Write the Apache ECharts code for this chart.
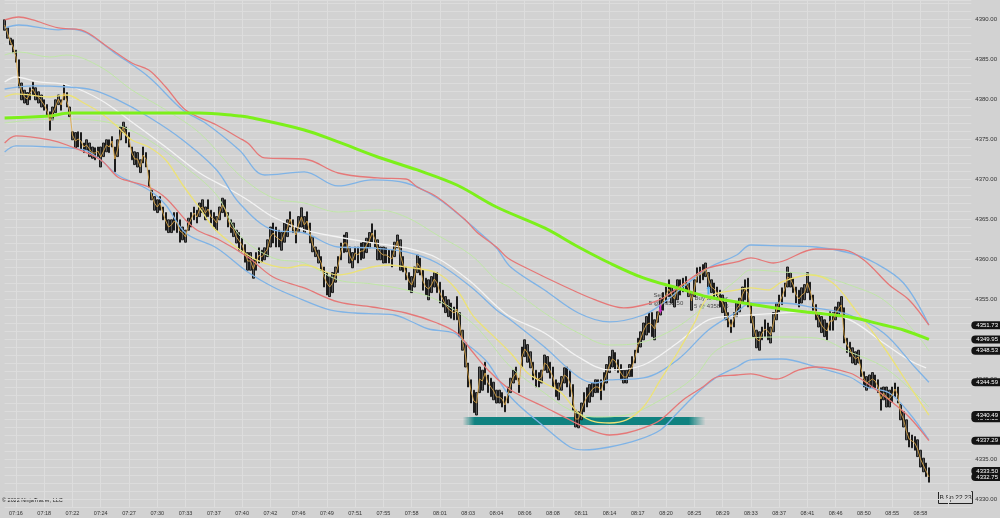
<!DOCTYPE html>
<html><head><meta charset="utf-8">
<script src="https://cdn.jsdelivr.net/npm/echarts@6/dist/echarts.min.js"></script>
<style>html,body{margin:0;padding:0;background:#d2d2d2;}#c{width:1000px;height:518px;}</style>
</head><body><div id="c"></div>
<script>
const FONT = '"Liberation Sans", Arial, sans-serif';
const timeLabels = ['07:16','07:18','07:22','07:24','07:27','07:30','07:33','07:37','07:40','07:42','07:46','07:49','07:51','07:55','07:58','08:01','08:03','08:04','08:06','08:08','08:11','08:14','08:17','08:20','08:25','08:29','08:33','08:37','08:41','08:46','08:50','08:55','08:58'];
const slotCount = 343; // bar slots incl. right margin

const barHigh = [
4389.9,4388.9,4387.6,4387.4,4386.1,4384.9,4382.0,4381.1,4380.8,4381.4,
4382.1,4381.4,4380.9,4380.5,4379.9,4379.3,4378.4,4379.0,4379.9,4380.5,
4379.9,4381.8,4380.8,4379.0,4375.9,4375.8,4375.9,4375.8,4374.5,4374.9,
4374.5,4374.0,4373.9,4374.0,4374.0,4374.5,4374.9,4374.9,4375.3,4374.0,
4374.9,4376.5,4377.1,4376.5,4375.8,4374.0,4373.4,4373.3,4372.4,4374.0,
4373.3,4371.1,4368.6,4367.8,4367.4,4367.8,4366.5,4365.8,4364.9,4364.9,
4365.8,4365.8,4364.9,4364.0,4363.6,4365.1,4365.8,4366.5,4366.1,4367.0,
4367.4,4366.5,4367.4,4366.1,4365.8,4365.3,4366.5,4367.6,4367.4,4365.8,
4364.9,4364.5,4363.6,4363.3,4362.6,4361.8,4360.8,4360.8,4359.9,4360.8,
4361.4,4361.1,4361.4,4362.4,4364.0,4364.5,4364.0,4363.6,4363.3,4364.5,
4364.9,4365.9,4364.9,4364.0,4365.3,4366.4,4365.3,4365.9,4364.5,4362.8,
4361.5,4361.1,4360.3,4359.0,4358.3,4357.8,4358.3,4359.0,4360.3,4362.0,
4363.0,4363.3,4361.5,4360.8,4361.5,4361.5,4362.0,4362.1,4362.6,4363.3,
4364.4,4363.6,4362.4,4361.5,4361.5,4361.4,4361.1,4361.1,4362.1,4363.0,
4362.4,4360.3,4359.0,4358.3,4357.8,4359.0,4360.5,4360.1,4358.6,4357.6,
4357.4,4357.8,4358.3,4358.3,4357.1,4356.1,4355.3,4354.9,4354.5,4354.0,
4355.3,4353.3,4351.1,4349.5,4347.0,4344.9,4343.6,4343.3,4346.5,4346.1,
4347.1,4345.5,4345.1,4344.6,4343.6,4343.6,4343.3,4342.8,4344.0,4345.1,
4346.1,4346.5,4345.1,4349.0,4349.9,4349.3,4348.4,4347.1,4346.1,4345.8,
4346.1,4348.0,4347.8,4347.1,4346.5,4344.9,4344.5,4345.3,4346.4,4346.5,
4346.1,4344.3,4341.1,4340.9,4342.0,4343.3,4343.9,4344.3,4344.5,4344.9,
4344.9,4344.9,4345.8,4346.8,4347.8,4348.6,4348.3,4347.4,4346.8,4346.1,
4346.1,4346.8,4347.8,4348.6,4350.1,4350.9,4352.0,4352.8,4353.3,4353.3,
4352.4,4353.4,4355.1,4355.8,4356.5,4357.4,4356.5,4356.1,4357.4,4357.4,
4357.6,4357.8,4357.0,4355.8,4357.4,4358.9,4359.0,4359.3,4359.5,4358.3,
4357.4,4357.0,4356.5,4356.1,4355.5,4354.6,4353.3,4352.4,4353.3,4354.5,
4355.1,4356.5,4357.4,4357.6,4354.5,4352.8,4351.1,4350.9,4351.5,4352.4,
4352.0,4351.5,4353.3,4354.5,4355.5,4356.4,4357.0,4359.0,4358.3,4357.6,
4356.5,4356.1,4356.4,4356.8,4358.3,4357.1,4355.5,4354.3,4353.3,4352.8,
4352.4,4352.0,4353.4,4353.3,4354.0,4354.6,4355.3,4353.9,4350.1,4349.6,
4348.9,4348.4,4348.6,4347.4,4345.9,4345.3,4345.5,4345.8,4345.5,4344.9,
4343.9,4344.0,4344.0,4343.6,4344.0,4344.5,4344.0,4341.8,4340.9,4339.9,
4338.3,4338.0,4337.8,4337.4,4336.1,4335.1,4334.5,4333.9];

const barLow = [
4388.6,4387.6,4386.8,4385.8,4384.6,4381.4,4379.9,4379.5,4379.3,4379.9,
4380.5,4379.9,4379.5,4379.0,4378.6,4378.0,4376.1,4377.4,4378.3,4379.3,
4378.6,4379.9,4379.0,4377.8,4374.9,4373.9,4374.0,4373.6,4373.3,4373.6,
4372.8,4372.6,4372.4,4372.8,4371.5,4372.8,4373.4,4373.3,4374.0,4370.9,
4372.8,4374.9,4375.8,4374.5,4374.0,4372.4,4371.8,4371.5,4370.8,4372.0,
4371.5,4369.0,4367.4,4366.1,4365.8,4366.1,4364.9,4363.6,4363.3,4363.3,
4363.6,4363.3,4362.1,4362.4,4362.1,4363.6,4364.0,4364.9,4364.5,4365.3,
4365.8,4364.9,4365.3,4364.5,4364.0,4363.6,4364.9,4365.8,4365.3,4364.0,
4363.3,4362.8,4362.0,4361.1,4360.9,4359.6,4358.6,4358.6,4357.6,4358.6,
4359.5,4359.6,4359.9,4360.3,4361.5,4362.0,4361.5,4361.5,4361.1,4362.1,
4362.8,4364.0,4363.3,4362.0,4363.4,4364.0,4363.3,4363.6,4362.0,4360.9,
4360.3,4359.5,4358.6,4356.5,4355.5,4355.3,4355.8,4357.1,4358.3,4359.9,
4360.8,4360.9,4359.5,4358.9,4359.9,4359.5,4359.9,4360.1,4360.8,4361.4,
4362.1,4361.5,4359.9,4359.9,4359.5,4359.5,4359.5,4359.0,4360.3,4361.4,
4358.6,4358.4,4357.4,4356.1,4355.8,4356.5,4358.3,4358.0,4356.1,4355.5,
4354.9,4355.8,4356.5,4355.8,4354.5,4354.0,4353.3,4352.8,4352.6,4352.4,
4352.4,4350.3,4348.6,4346.5,4344.0,4342.0,4340.8,4340.5,4343.3,4343.6,
4344.3,4343.3,4342.8,4342.4,4342.0,4342.0,4341.5,4340.9,4342.0,4343.3,
4344.5,4344.9,4343.3,4346.5,4347.8,4347.1,4346.4,4344.9,4344.0,4344.0,
4344.5,4346.1,4345.8,4345.1,4344.0,4342.8,4342.4,4343.6,4344.5,4344.0,
4342.8,4341.1,4339.0,4338.9,4339.9,4340.9,4341.5,4342.1,4342.8,4343.3,
4343.3,4342.4,4343.6,4344.5,4345.8,4346.5,4346.1,4345.8,4344.9,4344.5,
4344.5,4345.3,4345.3,4347.0,4348.3,4349.0,4349.9,4350.5,4350.8,4350.3,
4349.9,4352.1,4353.0,4353.6,4354.5,4355.3,4354.5,4354.0,4354.9,4355.5,
4355.9,4356.1,4355.3,4353.6,4355.3,4357.1,4357.0,4357.4,4357.8,4356.5,
4355.8,4355.3,4354.9,4354.0,4353.3,4352.4,4351.5,4350.8,4351.5,4352.8,
4353.4,4354.5,4354.9,4354.0,4352.0,4350.3,4348.9,4348.6,4349.9,4350.3,
4349.9,4349.5,4350.9,4352.4,4353.4,4354.3,4355.3,4356.5,4356.5,4355.8,
4354.5,4354.0,4354.5,4354.9,4355.8,4354.9,4353.6,4352.4,4351.5,4350.8,
4350.3,4349.9,4351.1,4351.1,4352.4,4352.8,4353.3,4349.5,4348.3,4347.8,
4347.0,4346.8,4347.0,4345.3,4344.0,4343.6,4343.9,4344.0,4343.9,4343.3,
4341.1,4342.4,4341.5,4341.5,4342.1,4342.8,4342.0,4339.9,4339.0,4337.4,
4336.5,4336.4,4336.1,4335.3,4334.0,4333.4,4332.8,4332.1];

const barClose = [
4389.25,4388.25,4387.25,4386.5,4385.25,4382,4381,4380.25,4380,4380.75,
4381.25,4380.5,4380.25,4379.75,4379.25,4378.5,4377.25,4378.25,4379,4380,
4379.25,4380.75,4379.75,4378.5,4375.5,4374.75,4375,4374.75,4374,4374.25,
4373.75,4373.25,4373.25,4373.5,4372.75,4373.5,4374.25,4374,4374.75,4372.5,
4373.75,4375.75,4376.5,4375.5,4375,4373.25,4372.5,4372.5,4371.5,4373,
4372.5,4370,4368,4367,4366.5,4367,4365.75,4364.75,4364,4364.25,
4364.75,4364.5,4363.5,4363.25,4362.75,4364.25,4365,4365.75,4365.25,4366.25,
4366.5,4365.75,4366.25,4365.25,4365,4364.5,4365.75,4366.75,4366.25,4365,
4364,4363.75,4362.75,4362.25,4361.75,4360.75,4359.75,4359.75,4358.75,4359.75,
4360.5,4360.25,4360.75,4361.25,4362.75,4363.25,4362.75,4362.5,4362.25,4363.25,
4363.75,4365,4364,4363,4364.25,4365.25,4364.25,4364.75,4363.25,4361.75,
4361,4360.25,4359.5,4357.75,4357,4356.5,4357,4358,4359.25,4361,
4362,4362,4360.5,4359.75,4360.75,4360.5,4361,4361,4361.75,4362.25,
4363.25,4362.5,4361.25,4360.75,4360.5,4360.5,4360.25,4360,4361.25,4362.25,
4360.5,4359.25,4358.25,4357.25,4356.75,4357.75,4359.5,4359,4357.25,4356.5,
4356.25,4356.75,4357.5,4357,4355.75,4355,4354.25,4353.75,4353.5,4353.25,
4353.75,4351.75,4349.75,4348,4345.5,4343.5,4342.25,4342,4345,4344.75,
4345.75,4344.5,4344,4343.5,4342.75,4342.75,4342.5,4341.75,4343,4344.25,
4345.25,4345.75,4344.25,4347.75,4348.75,4348.25,4347.5,4346,4345,4345,
4345.25,4347,4346.75,4346,4345.25,4343.75,4343.5,4344.5,4345.5,4345.25,
4344.5,4342.75,4340,4340,4341,4342,4342.75,4343.25,4343.75,4344,
4344,4343.5,4344.75,4345.75,4346.75,4347.5,4347.25,4346.5,4345.75,4345.25,
4345.25,4346,4346.5,4347.75,4349.25,4350,4351,4351.75,4352,4351.75,
4351.25,4352.75,4354,4354.75,4355.5,4356.25,4355.5,4355,4356.25,4356.5,
4356.75,4357,4356.25,4354.75,4356.25,4358,4358,4358.25,4358.75,4357.5,
4356.5,4356.25,4355.75,4355,4354.5,4353.5,4352.5,4351.5,4352.5,4353.75,
4354.25,4355.5,4356.25,4355.75,4353.25,4351.5,4350,4349.75,4350.75,4351.25,
4351,4350.5,4352,4353.5,4354.5,4355.25,4356.25,4357.75,4357.5,4356.75,
4355.5,4355,4355.5,4355.75,4357,4356,4354.5,4353.25,4352.5,4351.75,
4351.25,4351,4352.25,4352.25,4353.25,4353.75,4354.25,4350.5,4349.25,4348.75,
4348,4347.5,4347.75,4346.25,4345,4344.5,4344.75,4345,4344.75,4344,
4342.5,4343.25,4342.75,4342.5,4343,4343.75,4343,4340.75,4340,4338.5,
4337.5,4337.25,4337,4336.25,4335,4334.25,4333.5,4332.75];

// indicator lines: [bar index, price]
const smaGreen = [[0,4377.63],[16,4377.88],[23,4378.25],[51,4378.25],[69,4378.25],[83,4377.88],[86,4377.75],[106,4376.13],[118,4374.63],[132,4372.75],[146,4371.13],[160,4369.25],[174,4366.5],[191,4363.88],[203,4361.5],[214,4359.5],[226,4357.63],[238,4356.38],[249,4355.25],[259,4354.63],[275,4353.75],[287,4353.25],[299,4352.75],[311,4351.75],[318,4351.13],[327,4349.95]];
const upperRed = [[0,4389.88],[5,4390.25],[10,4389.88],[19,4388.88],[27,4388.63],[37,4386.38],[45,4384.5],[51,4383.63],[57,4381.5],[64,4378.63],[75,4376.75],[83,4375.13],[86,4374.5],[92,4372.63],[106,4372.5],[118,4370.75],[132,4370.13],[142,4370.0],[146,4369.0],[153,4367.75],[163,4364.88],[167,4363.38],[174,4361.5],[178,4360.13],[186,4358.63],[197,4356.75],[209,4354.88],[219,4353.88],[226,4354.25],[233,4355.13],[242,4357.38],[249,4358.88],[259,4359.63],[264,4360.13],[272,4359.5],[287,4361.25],[297,4361.13],[304,4359.88],[313,4356.75],[320,4354.88],[327,4351.73]];
const upperBlue = [[0,4388.88],[5,4389.25],[19,4388.63],[23,4388.75],[29,4388.25],[40,4385.5],[51,4382.75],[63,4378.63],[71,4377.0],[83,4373.63],[92,4370.5],[106,4370.88],[118,4369.13],[130,4369.88],[142,4369.5],[153,4367.63],[165,4364.25],[167,4363.63],[174,4361.38],[179,4359.0],[191,4356.13],[203,4353.25],[214,4352.13],[226,4353.0],[233,4354.5],[240,4356.5],[249,4358.88],[259,4360.5],[264,4361.75],[275,4361.63],[287,4361.5],[299,4360.75],[308,4359.5],[318,4357.0],[327,4351.75]];
const upperLightGreen = [[0,4385.5],[5,4385.88],[16,4385.25],[22,4385.5],[34,4384.0],[45,4381.13],[57,4378.63],[69,4375.75],[83,4370.5],[95,4367.63],[106,4367.0],[118,4365.88],[132,4366.13],[142,4365.25],[153,4363.0],[165,4360.5],[174,4357.38],[179,4356.38],[191,4353.25],[203,4350.75],[214,4349.25],[226,4349.63],[238,4351.5],[249,4354.5],[259,4357.38],[264,4358.63],[275,4358.38],[287,4358.0],[299,4356.75],[311,4354.88],[322,4350.88],[327,4348.53]];
const whiteAvg = [[0,4382.13],[4,4382.75],[12,4382.13],[22,4381.75],[34,4379.88],[45,4377.13],[57,4374.0],[69,4370.75],[80,4368.63],[86,4367.38],[95,4365.25],[106,4363.63],[118,4362.75],[128,4362.13],[142,4361.38],[153,4360.13],[165,4357.13],[174,4354.13],[179,4352.75],[191,4350.75],[203,4347.75],[214,4346.13],[226,4346.75],[238,4349.5],[249,4352.38],[259,4352.88],[275,4353.25],[287,4353.38],[299,4352.38],[311,4349.5],[320,4347.38],[326,4346.38]];
const midBlue = [[0,4381.25],[10,4381.63],[22,4381.5],[31,4381.13],[40,4379.88],[51,4377.75],[63,4374.88],[75,4371.13],[83,4367.0],[95,4363.63],[106,4363.25],[118,4361.5],[130,4361.38],[142,4360.88],[153,4359.5],[165,4356.5],[174,4353.63],[179,4352.38],[191,4349.0],[203,4345.25],[209,4344.5],[214,4344.88],[226,4345.13],[238,4347.38],[249,4351.13],[259,4353.38],[264,4354.5],[275,4354.5],[287,4353.88],[299,4353.0],[311,4350.75],[322,4346.5],[327,4344.59]];
const yellowAvg = [[0,4380.25],[4,4380.63],[16,4380.25],[22,4380.5],[28,4379.5],[34,4378.25],[40,4376.5],[45,4374.88],[51,4374.0],[57,4372.38],[63,4369.25],[69,4366.38],[74,4363.88],[80,4362.0],[86,4360.5],[89,4359.88],[95,4359.13],[100,4358.88],[106,4359.25],[118,4358.0],[130,4359.0],[136,4359.25],[142,4359.0],[153,4358.25],[160,4356.13],[165,4353.25],[167,4352.38],[179,4348.25],[185,4345.75],[191,4344.5],[197,4343.25],[203,4340.75],[209,4339.63],[214,4339.5],[220,4339.88],[226,4341.5],[232,4344.88],[238,4348.25],[244,4352.0],[249,4355.25],[259,4356.13],[264,4356.38],[270,4356.13],[275,4357.13],[285,4358.0],[293,4357.0],[301,4353.63],[311,4349.0],[318,4345.25],[327,4340.49]];
const lowerLightGreen = [[0,4377.0],[10,4377.38],[22,4377.5],[31,4377.38],[40,4376.75],[51,4374.88],[63,4371.75],[75,4368.0],[83,4363.0],[95,4360.13],[106,4359.5],[118,4357.38],[130,4356.88],[142,4356.13],[153,4354.88],[165,4352.13],[171,4349.88],[179,4346.5],[191,4343.25],[200,4341.13],[209,4340.25],[220,4340.5],[232,4342.38],[244,4345.25],[252,4348.63],[264,4350.13],[275,4350.25],[287,4350.13],[299,4348.38],[311,4346.5],[322,4343.25],[327,4341.5]];
const lowerRed = [[0,4374.5],[4,4375.38],[16,4374.88],[22,4374.25],[34,4372.38],[40,4370.25],[45,4369.63],[51,4369.0],[57,4367.63],[64,4364.88],[68,4363.63],[76,4362.38],[86,4360.25],[95,4357.75],[106,4356.38],[118,4354.63],[130,4354.0],[142,4353.25],[153,4352.0],[160,4350.75],[165,4348.63],[171,4346.13],[179,4343.63],[191,4341.5],[200,4339.88],[209,4338.38],[214,4338.0],[220,4338.25],[226,4338.88],[232,4339.88],[240,4342.38],[247,4344.0],[252,4345.25],[259,4345.5],[264,4345.63],[273,4345.0],[281,4346.13],[287,4346.5],[299,4345.75],[305,4344.5],[313,4342.38],[320,4340.25],[327,4337.29]];
const lowerBlue = [[0,4373.38],[4,4374.13],[16,4374.0],[28,4373.63],[34,4372.38],[40,4370.5],[51,4368.63],[57,4366.75],[64,4363.25],[75,4361.38],[86,4358.38],[95,4356.5],[103,4355.25],[115,4353.63],[124,4353.25],[132,4353.13],[138,4353.0],[145,4352.0],[150,4351.25],[159,4350.75],[163,4349.5],[167,4348.38],[171,4347.0],[179,4342.75],[191,4339.0],[200,4336.5],[205,4336.13],[214,4336.5],[224,4337.38],[232,4338.63],[238,4340.75],[245,4343.25],[252,4345.25],[259,4346.5],[264,4347.38],[275,4347.5],[287,4346.5],[299,4345.25],[305,4344.0],[313,4343.25],[320,4340.75],[327,4337.38]];

const tagValues = [4351.73, 4349.95, 4348.53, 4344.59, 4340.10, 4340.49, 4337.29, 4333.50, 4332.75];
const zoneBand = {fromBar: '162', toBar: '248', top: 4340.25, bottom: 4339.25};
const sellArrow = [232, 4353.75];
const buyArrow = [249, 4356.13];
const tradeTexts = [{pos: [234, 4354.9], text: 'Sell short\n5 @ 4352.50'}, {pos: [250, 4354.6], text: 'Buy to cover\n5 @ 4358.25'}];

const categories = Array.from({length: slotCount}, (_, i) => String(i));
const isTimeTick = (i) => i >= 4 && (i - 4) % 10 === 0;

const lineSeries = (data, color, width, extra) => Object.assign({
  type: 'line', data: data, smooth: 0.35, symbol: 'none', silent: true,
  lineStyle: {color: color, width: width}, z: 3
}, extra || {});

const chart = echarts.init(document.getElementById('c'), null, {renderer: 'canvas'});
chart.setOption({
  backgroundColor: '#d2d2d2',
  animation: false,
  grid: {left: 4.64, right: 24.1, top: 0, bottom: 11},
  xAxis: {
    type: 'category', data: categories, boundaryGap: false,
    axisLine: {show: false}, axisTick: {show: false},
    axisLabel: {
      interval: (idx) => isTimeTick(idx) && (idx - 4) / 10 < timeLabels.length,
      formatter: (v) => { const i = Number(v); return isTimeTick(i) ? (timeLabels[(i - 4) / 10] || '') : ''; },
      fontSize: 5.5, color: '#333', margin: 3, fontFamily: FONT
    },
    splitLine: {show: true, interval: (idx) => isTimeTick(idx), lineStyle: {color: '#dddddd', width: 1}}
  },
  yAxis: {
    type: 'value', position: 'right', min: 4329, max: 4392.375, interval: 1,
    axisLine: {show: false}, axisTick: {show: false},
    axisLabel: {
      formatter: (v) => (Math.abs(v % 5) < 1e-6 ? v.toFixed(2) : ''),
      fontSize: 6, color: '#333', margin: 4, fontFamily: FONT
    },
    splitLine: {show: true, lineStyle: {color: '#dcdcdc', width: 1}}
  },
  series: [
    {
      type: 'scatter', z: 1, silent: true, symbolSize: 0,
      data: tradeTexts.map(t => ({value: t.pos, label: {show: true, formatter: t.text}})),
      label: {show: true, position: 'inside', fontSize: 6, lineHeight: 8, color: '#2a2a2a', fontFamily: FONT},
      markArea: {
        silent: true,
        itemStyle: {color: new echarts.graphic.LinearGradient(0, 0, 1, 0, [
          {offset: 0, color: 'rgba(16,130,128,0)'}, {offset: 0.05, color: 'rgba(16,130,128,1)'},
          {offset: 0.93, color: 'rgba(16,130,128,1)'}, {offset: 1, color: 'rgba(16,130,128,0)'}])},
        data: [[{xAxis: zoneBand.fromBar, yAxis: zoneBand.top}, {xAxis: zoneBand.toBar, yAxis: zoneBand.bottom}]]
      }
    },
    {
      type: 'candlestick', z: 2, silent: true, clip: false, barWidth: 2,
      data: barLow.map((l, i) => [l, barHigh[i], l, barHigh[i]]),
      itemStyle: {color: '#5a5a5a', color0: '#5a5a5a', borderColor: '#1c1c1c', borderColor0: '#1c1c1c', borderWidth: 1}
    },
    lineSeries(upperLightGreen, '#bfe6a6', 1),
    lineSeries(lowerLightGreen, '#bfe6a6', 1),
    lineSeries(whiteAvg, '#f3f3f3', 1.3),
    lineSeries(midBlue, '#7fb3e6', 1.3),
    lineSeries(yellowAvg, '#ece276', 1.3),
    lineSeries(upperBlue, '#7fb3e6', 1.3),
    lineSeries(lowerBlue, '#7fb3e6', 1.3),
    lineSeries(upperRed, '#e57878', 1.3),
    lineSeries(lowerRed, '#e57878', 1.3),
    lineSeries(smaGreen, '#7cf01a', 3, {z: 4}),
    lineSeries(barClose.map((c, i) => [i, c]), '#d9a446', 1, {smooth: false, z: 4, lineStyle: {color: 'rgba(222,168,70,0.85)', width: 1}}),
    {
      type: 'scatter', z: 5, silent: true,
      data: [
        {value: sellArrow, symbol: 'path://M1,0H3V6H4L2,10L0,6H1Z', symbolSize: [4, 9], itemStyle: {color: '#e026e0'}},
        {value: buyArrow, symbol: 'path://M2,0L4,4H3V10H1V4H0Z', symbolSize: [4, 9], itemStyle: {color: '#3aa4f2'}}
      ],
      markLine: {
        silent: true, symbol: ['none', 'none'], animation: false,
        lineStyle: {color: 'rgba(0,0,0,0)', width: 1, type: 'solid'},
        label: {show: true, position: 'end', distance: 0, formatter: (p) => Number(p.value).toFixed(2), color: '#ffffff',
          backgroundColor: '#141414', borderRadius: [6, 0, 0, 6], padding: [1, 3, 1, 5], fontSize: 6, fontFamily: FONT},
        emphasis: {disabled: true},
        data: tagValues.map(v => ({yAxis: v}))
      }
    }
  ],
  graphic: [
    {type: 'text', left: 2, top: 497, silent: true, style: {text: '\u00a9 2022 NinjaTrader, LLC', fontSize: 5.5, fill: '#222', fontFamily: FONT}},
    {type: 'group', left: 938, top: 491, silent: true, children: [
      {type: 'rect', shape: {x: 0, y: 0, width: 34, height: 12}, style: {fill: '#d6d6d6', stroke: '#222', lineWidth: 1}},
      {type: 'text', x: 17, y: 6.5, style: {text: 'B Sp 22 23', fontSize: 6.5, fill: '#222', align: 'center', verticalAlign: 'middle', fontFamily: FONT}}
    ]}
  ]
});
</script>
</body></html>
